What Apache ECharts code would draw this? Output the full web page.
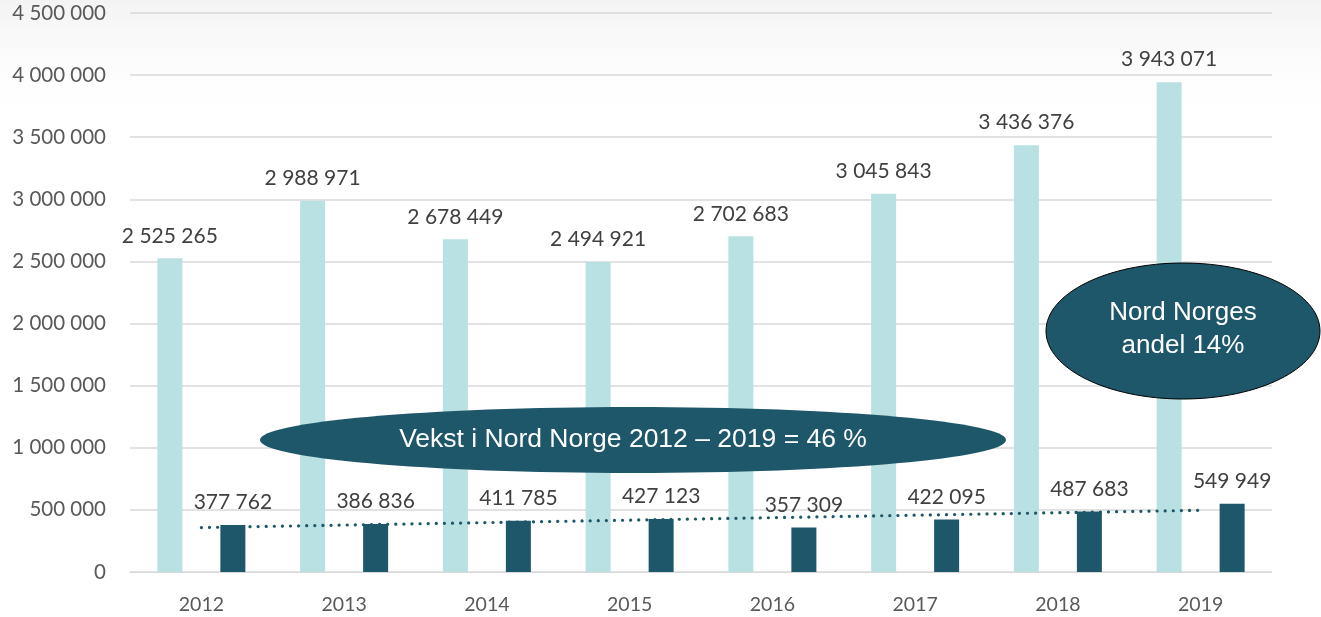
<!DOCTYPE html>
<html><head><meta charset="utf-8">
<script src="https://cdn.jsdelivr.net/npm/echarts@6/dist/echarts.min.js"></script>
<style>html,body{margin:0;padding:0;background:#fff}#c{width:1321px;height:617px}</style>
</head><body><div id="c"></div>
<script>
const categories = ['2012','2013','2014','2015','2016','2017','2018','2019'];
const norgeValues = [2525265, 2988971, 2678449, 2494921, 2702683, 3045843, 3436376, 3943071];
const nordNorgeValues = [377762, 386836, 411785, 427123, 357309, 422095, 487683, 549949];
const trendEnds = [358000, 497000];
const yMin = 0, yMax = 4500000, yStep = 500000;
const growthText = 'Vekst i Nord Norge 2012 – 2019 = 46 %';
const shareText = 'Nord Norges\nandel 14%';

const fmt = v => String(v).replace(/\B(?=(\d{3})+(?!\d))/g, ' ');
const FONT = 'Lato';
const chart = echarts.init(document.getElementById('c'));
const labelStyle = {show: true, position: 'top', distance: 12, formatter: p => fmt(p.value), fontFamily: FONT, fontSize: 21, color: '#404040'};
chart.setOption({
  animation: false,
  grid: {left: 130, right: 49, top: 13, bottom: 45},
  xAxis: {type: 'category', data: categories,
    axisLine: {lineStyle: {color: '#d9d9d9', width: 1}}, axisTick: {show: false},
    axisLabel: {fontFamily: FONT, fontSize: 19.5, color: '#595959', margin: 23}},
  yAxis: {type: 'value', min: yMin, max: yMax, interval: yStep,
    axisLine: {show: false}, axisTick: {show: false},
    splitLine: {lineStyle: {color: '#d9d9d9', width: 1.5}},
    axisLabel: {formatter: fmt, fontFamily: FONT, fontSize: 20.5, color: '#595959', margin: 24}},
  series: [
    {type: 'bar', name: 'Norge', data: norgeValues, barWidth: 25, barGap: '152%',
     itemStyle: {color: '#b9e0e3'}, label: labelStyle},
    {type: 'bar', name: 'Nord Norge', data: nordNorgeValues, barWidth: 25,
     itemStyle: {color: '#1e566a'}, label: labelStyle},
    {type: 'line', name: 'Trend', data: [], silent: true,
     markLine: {symbol: 'none', silent: true, label: {show: false},
       lineStyle: {type: [0.1, 8], width: 3.2, color: '#1e566a', cap: 'round'},
       data: [[{coord: [categories[0], trendEnds[0]]}, {coord: [categories[7], trendEnds[1]]}]]}}
  ],
  graphic: [
    {type: 'rect', z: -10, silent: true, shape: {x: 0, y: 0, width: 1321, height: 130},
     style: {fill: new echarts.graphic.LinearGradient(0, 0, 0, 1, [{offset: 0, color: '#f3f3f3'}, {offset: 1, color: 'rgba(255,255,255,0)'}])}},
    {type: 'ellipse', z: 100, shape: {cx: 633, cy: 440, rx: 373, ry: 33},
     style: {fill: '#1e566a'}},
    {type: 'text', z: 101, x: 633, y: 440,
     style: {text: growthText, fill: '#fff', font: '26.5px "Liberation Sans", Arial', align: 'center', verticalAlign: 'middle'}},
    {type: 'ellipse', z: 100, shape: {cx: 1183, cy: 331, rx: 137, ry: 68},
     style: {fill: '#1e566a', stroke: '#000', lineWidth: 1}},
    {type: 'text', z: 101, x: 1183, y: 329,
     style: {text: shareText, fill: '#fff', font: '26px "Liberation Sans", Arial', align: 'center', verticalAlign: 'middle', lineHeight: 33}}
  ]
});
</script></body></html>
